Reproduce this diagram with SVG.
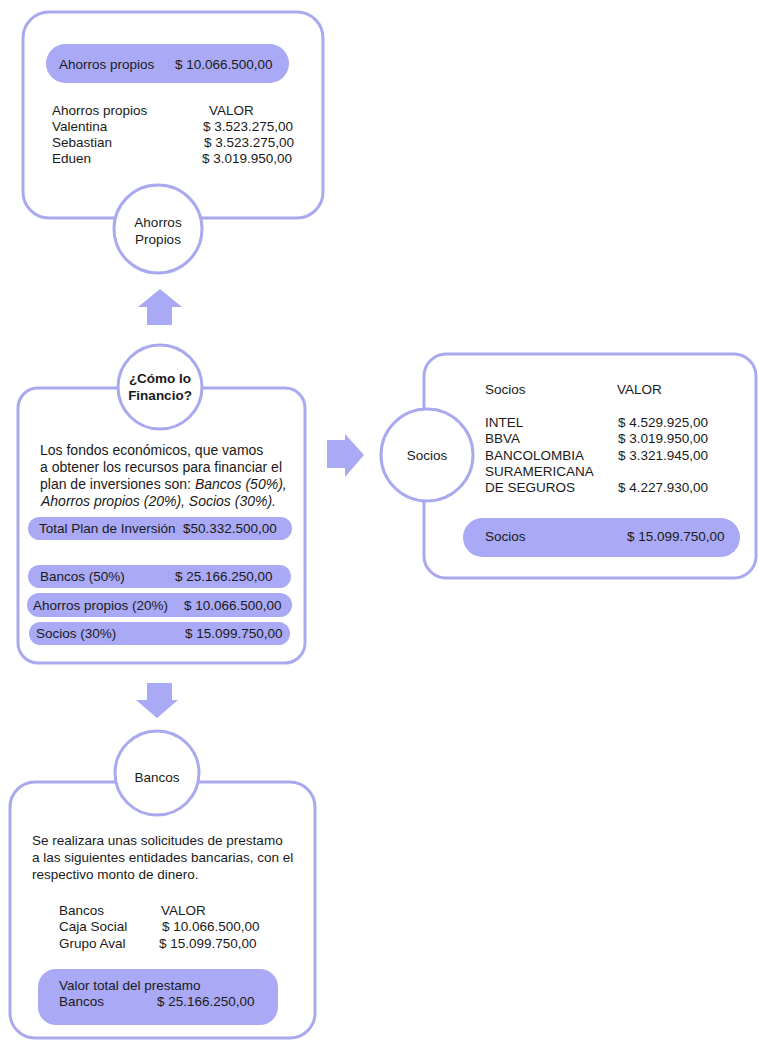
<svg xmlns="http://www.w3.org/2000/svg" width="759" height="1040" viewBox="0 0 759 1040">
<style>
.box{fill:#fff;stroke:#a9a9ef;stroke-width:3}
.circ{fill:#fff;stroke:#a9a9ef;stroke-width:3}
.pill{fill:#a9a9f5;stroke:none}
.arrow{fill:#a9a9f5;stroke:none}
text{font-family:"Liberation Sans",Arial,sans-serif;font-size:13.5px;fill:#1a1a1a}
.c{text-anchor:middle}
.b{font-weight:bold}
.i{font-style:italic}
.p{font-size:14px}
</style>
<rect width="759" height="1040" fill="#fff"/>
<g id="connectors">
<polygon class="arrow" points="160,289 182,307 172,307 172,325 147,325 147,307 138,307"/>
<polygon class="arrow" points="327,440 345,440 345,434 364,455 345,477 345,468 327,468"/>
<polygon class="arrow" points="147,683 172,683 172,700 178,700 157,718 136,700 147,700"/>
</g>
<g id="node-ahorros">
<rect class="box" x="23" y="12" width="300" height="206" rx="26"/>
<rect class="pill" x="46" y="44" width="243" height="39" rx="19.5"/>
<text x="59" y="69">Ahorros propios</text>
<text x="175" y="69">$ 10.066.500,00</text>
<text x="52" y="115">Ahorros propios</text>
<text x="209" y="115">VALOR</text>
<text x="52" y="131">Valentina</text>
<text x="203" y="131">$ 3.523.275,00</text>
<text x="52" y="147">Sebastian</text>
<text x="204" y="147">$ 3.523.275,00</text>
<text x="52" y="163">Eduen</text>
<text x="202" y="163">$ 3.019.950,00</text>
<circle class="circ" cx="158" cy="229" r="44"/>
<text class="c" x="158" y="227">Ahorros</text>
<text class="c" x="158" y="244">Propios</text>
</g>
<g id="node-financio">
<rect class="box" x="18" y="388" width="287" height="275" rx="20"/>
<text class="p" x="40" y="455">Los fondos económicos, que vamos</text>
<text class="p" x="40" y="472">a obtener los recursos para financiar el</text>
<text class="p" x="40" y="489">plan de inversiones son: <tspan class="i">Bancos (50%),</tspan></text>
<text class="p i" x="41" y="506">Ahorros propios (20%), Socios (30%).</text>
<rect class="pill" x="28" y="517" width="264" height="23" rx="11.5"/>
<text x="39" y="533">Total Plan de Inversión</text>
<text x="183" y="533">$50.332.500,00</text>
<rect class="pill" x="28" y="565" width="263" height="23" rx="11.5"/>
<text x="40" y="581">Bancos (50%)</text>
<text x="175" y="581">$ 25.166.250,00</text>
<rect class="pill" x="27" y="593" width="265" height="24" rx="12"/>
<text x="33" y="610">Ahorros propios (20%)</text>
<text x="184" y="610">$ 10.066.500,00</text>
<rect class="pill" x="29" y="622" width="261" height="23" rx="11.5"/>
<text x="36" y="638">Socios (30%)</text>
<text x="185" y="638">$ 15.099.750,00</text>
<circle class="circ" cx="160" cy="387" r="42"/>
<text class="c b" x="160" y="383">¿Cómo lo</text>
<text class="c b" x="160" y="400">Financio?</text>
</g>
<g id="node-socios">
<rect class="box" x="424" y="354" width="332" height="224" rx="22"/>
<text x="485" y="394">Socios</text>
<text x="617" y="394">VALOR</text>
<text x="485" y="427">INTEL</text>
<text x="618" y="427">$ 4.529.925,00</text>
<text x="485" y="443">BBVA</text>
<text x="618" y="443">$ 3.019.950,00</text>
<text x="485" y="460">BANCOLOMBIA</text>
<text x="618" y="460">$ 3.321.945,00</text>
<text x="485" y="476">SURAMERICANA</text>
<text x="485" y="492">DE SEGUROS</text>
<text x="618" y="492">$ 4.227.930,00</text>
<rect class="pill" x="463" y="518" width="277" height="39" rx="19.5"/>
<text x="485" y="541">Socios</text>
<text x="627" y="541">$ 15.099.750,00</text>
<circle class="circ" cx="427" cy="455" r="46"/>
<text class="c" x="427" y="460">Socios</text>
</g>
<g id="node-bancos">
<rect class="box" x="10" y="782" width="305" height="256" rx="25"/>
<text x="32" y="845">Se realizara unas solicitudes de prestamo</text>
<text x="32" y="862">a las siguientes entidades bancarias, con el</text>
<text x="32" y="879">respectivo monto de dinero.</text>
<text x="59" y="915">Bancos</text>
<text x="161" y="915">VALOR</text>
<text x="59" y="931">Caja Social</text>
<text x="162" y="931">$ 10.066.500,00</text>
<text x="59" y="948">Grupo Aval</text>
<text x="159" y="948">$ 15.099.750,00</text>
<rect class="pill" x="38" y="969" width="240" height="56" rx="18"/>
<text x="59" y="990">Valor total del prestamo</text>
<text x="59" y="1006">Bancos</text>
<text x="157" y="1006">$ 25.166.250,00</text>
<circle class="circ" cx="157" cy="773" r="42"/>
<text class="c" x="157" y="782">Bancos</text>
</g>
</svg>
